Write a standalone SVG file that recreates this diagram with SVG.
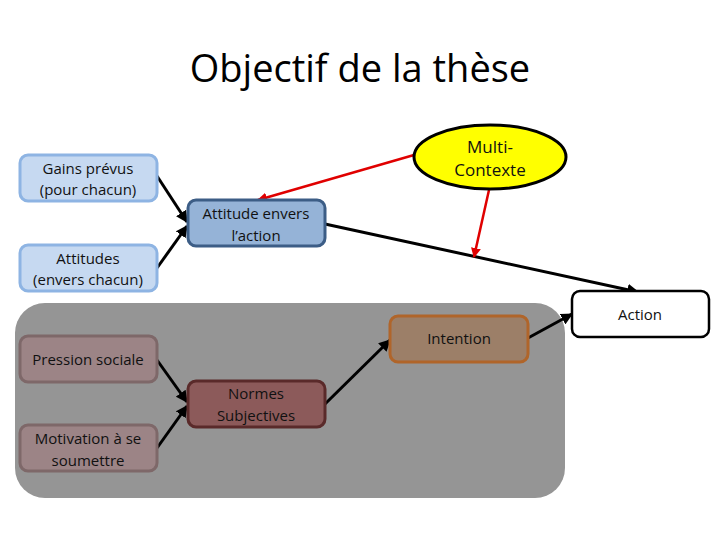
<svg xmlns="http://www.w3.org/2000/svg" width="720" height="540" viewBox="0 0 720 540">
<defs>
<style>
.t{font-family:"Open Sans","Liberation Sans",sans-serif;font-size:15px;fill:#111;text-anchor:middle}
.blk{stroke:#000;stroke-width:3;fill:none}
.red{stroke:#e00000;stroke-width:2.5;fill:none}
.light{fill:#c6d9f1;stroke:#8eb4e3;stroke-width:3}
.gray{fill:#9c8486;stroke:#7e6869;stroke-width:3}
</style>
<marker id="ab" viewBox="0 0 10 10" refX="9" refY="5" markerWidth="4" markerHeight="4" orient="auto" markerUnits="strokeWidth"><path d="M0,0L10,5L0,10z" fill="#000"/></marker>
<marker id="ar" viewBox="0 0 10 10" refX="9" refY="5" markerWidth="4" markerHeight="4" orient="auto" markerUnits="strokeWidth"><path d="M0,0L10,5L0,10z" fill="#e00000"/></marker>
</defs>
<rect width="720" height="540" fill="#fff"/>
<text x="360" y="82" style="font-family:'Open Sans','Liberation Sans',sans-serif;font-size:38px;fill:#000;text-anchor:middle">Objectif de la thèse</text>
<rect id="bg" x="15" y="303" width="550" height="195" rx="30" fill="#959595"/>
<g id="connectors">
<line class="blk" x1="157" y1="176" x2="187" y2="222" marker-end="url(#ab)"/>
<line class="blk" x1="157" y1="268" x2="187" y2="226" marker-end="url(#ab)"/>
<line class="blk" x1="325" y1="224" x2="638" y2="292" marker-end="url(#ab)"/>
<line class="red" x1="414" y1="155" x2="258" y2="200" marker-end="url(#ar)"/>
<line class="red" x1="489" y1="190" x2="474" y2="257" marker-end="url(#ar)"/>
<line class="blk" x1="157" y1="360" x2="187" y2="402" marker-end="url(#ab)"/>
<line class="blk" x1="157" y1="448" x2="187" y2="406" marker-end="url(#ab)"/>
<line class="blk" x1="325" y1="404" x2="390" y2="340" marker-end="url(#ab)"/>
<line class="blk" x1="528" y1="338" x2="572" y2="314" marker-end="url(#ab)"/>
</g>
<g id="gains"><rect class="light" x="20" y="155" width="137" height="46" rx="8"/><text class="t" x="88" y="174">Gains prévus</text><text class="t" x="88" y="195">(pour chacun)</text></g>
<g id="attitudes"><rect class="light" x="20" y="245" width="137" height="46" rx="8"/><text class="t" x="88" y="264">Attitudes</text><text class="t" x="88" y="285">(envers chacun)</text></g>
<g id="attitude-action"><rect x="188" y="200" width="137" height="46" rx="8" fill="#95b3d7" stroke="#3c5d86" stroke-width="3"/><text class="t" x="256" y="219">Attitude envers</text><text class="t" x="256" y="241">l’action</text></g>
<g id="multi"><ellipse cx="490" cy="157" rx="76" ry="32" fill="#ffff00" stroke="#000" stroke-width="3"/><text class="t" x="490" y="153" style="font-size:17px">Multi-</text><text class="t" x="490" y="176" style="font-size:17px">Contexte</text></g>
<g id="action"><rect x="572" y="291" width="137" height="46" rx="8" fill="#fff" stroke="#000" stroke-width="2.5"/><text class="t" x="640" y="320">Action</text></g>
<g id="intention"><rect x="390" y="316" width="138" height="46" rx="8" fill="#9c7f68" stroke="#b0652a" stroke-width="3"/><text class="t" x="459" y="344">Intention</text></g>
<g id="pression"><rect class="gray" x="20" y="336" width="137" height="46" rx="8"/><text class="t" x="88" y="365">Pression sociale</text></g>
<g id="normes"><rect x="188" y="381" width="137" height="46" rx="8" fill="#8c5a5a" stroke="#5a2a2a" stroke-width="3"/><text class="t" x="256" y="399">Normes</text><text class="t" x="256" y="421">Subjectives</text></g>
<g id="motivation"><rect class="gray" x="20" y="425" width="137" height="46" rx="8"/><text class="t" x="88" y="444">Motivation à se</text><text class="t" x="88" y="466">soumettre</text></g>
</svg>
